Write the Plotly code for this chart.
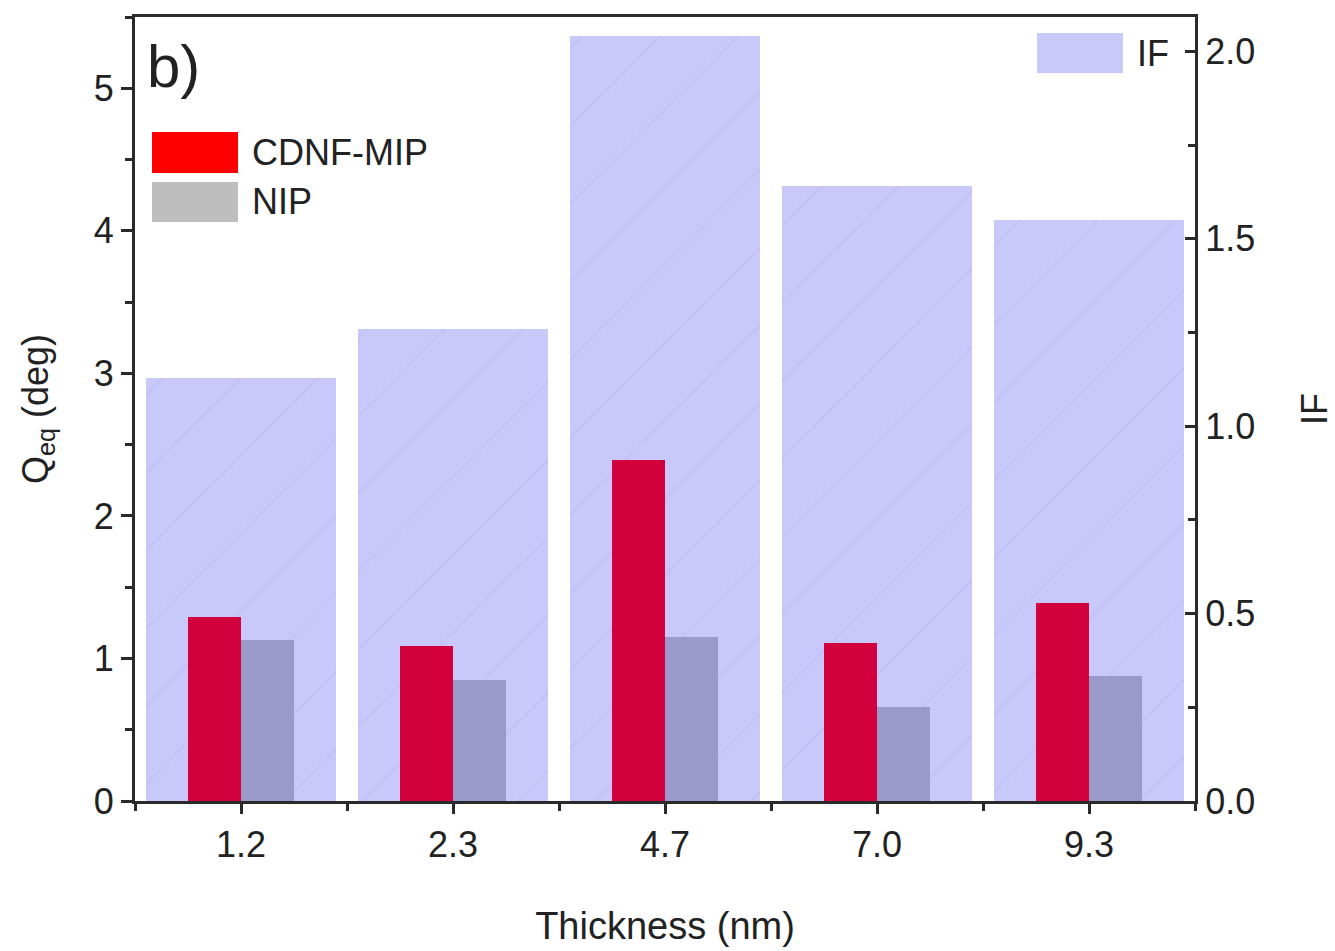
import plotly.graph_objects as go

# ---- data ----
thickness = ["1.2", "2.3", "4.7", "7.0", "9.3"]
if_values = [1.13, 1.26, 2.04, 1.64, 1.55]
mip_values = [1.29, 1.09, 2.39, 1.11, 1.39]
nip_values = [1.13, 0.85, 1.15, 0.66, 0.88]

q_ticks = [0, 1, 2, 3, 4, 5]
if_ticks = [0.0, 0.5, 1.0, 1.5, 2.0]

FONT = "Liberation Sans, Arial, sans-serif"
AX = "#2a2a2a"

W, H = 1335, 951
L, R, T, B = 135, 140, 17, 150
pw, ph = W - L - R, H - T - B

def px(x):
    return (x - L) / pw

def py(y):
    return (H - B - y) / ph

xpos = list(range(len(thickness)))

fig = go.Figure()

# IF bars (background, right axis)
fig.add_trace(go.Bar(
    x=xpos, y=if_values, width=0.9, yaxis="y",
    marker=dict(color="#C8C8FA", line=dict(width=0),
                pattern=dict(shape="/", bgcolor="#C8C8FA", fgcolor="#BCBCF0",
                             fgopacity=0.55, size=55, solidity=0.04)),
    name="IF", showlegend=False,
))
# CDNF-MIP and NIP (left axis, drawn on top)
fig.add_trace(go.Bar(
    x=xpos, y=mip_values, width=0.25, offset=-0.25, yaxis="y2",
    marker=dict(color="#D2003C", line=dict(width=0)),
    name="CDNF-MIP", showlegend=False,
))
fig.add_trace(go.Bar(
    x=xpos, y=nip_values, width=0.25, offset=0.0, yaxis="y2",
    marker=dict(color="#9999CA", line=dict(width=0)),
    name="NIP", showlegend=False,
))

# ---- legend drawn as swatches + text ----
legend_items = [
    ("CDNF-MIP", "#FF0000", 152, 238, 132, 173),
    ("NIP", "#BEBEBE", 152, 238, 182, 222),
]
shapes = []
annotations = []
for name, col, x0, x1, y0, y1 in legend_items:
    shapes.append(dict(type="rect", xref="paper", yref="paper",
                       x0=px(x0), x1=px(x1), y0=py(y1), y1=py(y0),
                       fillcolor=col, line=dict(width=0)))
    annotations.append(dict(text=name, xref="paper", yref="paper",
                            x=px(x1 + 12), y=py((y0 + y1) / 2),
                            xanchor="left", yanchor="middle", showarrow=False,
                            font=dict(family=FONT, size=36, color="#222")))
shapes.append(dict(type="rect", xref="paper", yref="paper",
                   x0=px(1037), x1=px(1123), y0=py(73), y1=py(33),
                   fillcolor="#C8C8FA", line=dict(width=0)))
annotations.append(dict(text="IF", xref="paper", yref="paper",
                        x=px(1135), y=py(53), xanchor="left", yanchor="middle",
                        showarrow=False, font=dict(family=FONT, size=36, color="#222")))
annotations.append(dict(text="b)", xref="paper", yref="paper",
                        x=px(145), y=py(66), xanchor="left", yanchor="middle",
                        showarrow=False, font=dict(family=FONT, size=60, color="#222")))

fig.update_layout(
    width=W, height=H,
    margin=dict(l=L, r=R, t=T, b=B, pad=0, autoexpand=False),
    paper_bgcolor="white", plot_bgcolor="white",
    barmode="overlay", bargap=0,
    showlegend=False,
    font=dict(family=FONT, size=36, color="#222"),
    xaxis=dict(
        range=[-0.5, 4.5], tickvals=xpos, ticktext=thickness, automargin=False,
        showline=True, linecolor=AX, linewidth=3, mirror=True,
        ticks="outside", ticklen=10, tickwidth=2.5, tickcolor=AX,
        minor=dict(dtick=0.5, tick0=0.5, ticks="outside", ticklen=7, tickwidth=2.5, tickcolor=AX),
        showgrid=False, zeroline=False,
        tickfont=dict(size=36),
        title=dict(text="Thickness (nm)", font=dict(size=38), standoff=49),
    ),
    yaxis=dict(
        side="right", range=[0, 2.092], tickvals=if_ticks, automargin=False,
        ticktext=[f"{v:.1f}" for v in if_ticks],
        showline=True, linecolor=AX, linewidth=3,
        ticks="inside", ticklen=10, tickwidth=2.5, tickcolor=AX,
        minor=dict(dtick=0.25, tick0=0, ticks="inside", ticklen=7, tickwidth=2.5, tickcolor=AX),
        showgrid=False, zeroline=False,
        tickfont=dict(size=36),
        title=dict(text="IF", font=dict(size=36), standoff=49),
    ),
    yaxis2=dict(
        side="left", overlaying="y", range=[0, 5.5], tickvals=q_ticks, automargin=False,
        showline=True, linecolor=AX, linewidth=3,
        ticks="outside", ticklen=11, tickwidth=2.5, tickcolor=AX,
        minor=dict(dtick=0.5, tick0=0, ticks="outside", ticklen=7, tickwidth=2.5, tickcolor=AX),
        showgrid=False, zeroline=False,
        tickfont=dict(size=36),
        title=dict(text="Q<sub>eq</sub> (deg)", font=dict(size=36), standoff=35),
    ),
    shapes=shapes,
    annotations=annotations,
)

fig.write_html("out.html")
